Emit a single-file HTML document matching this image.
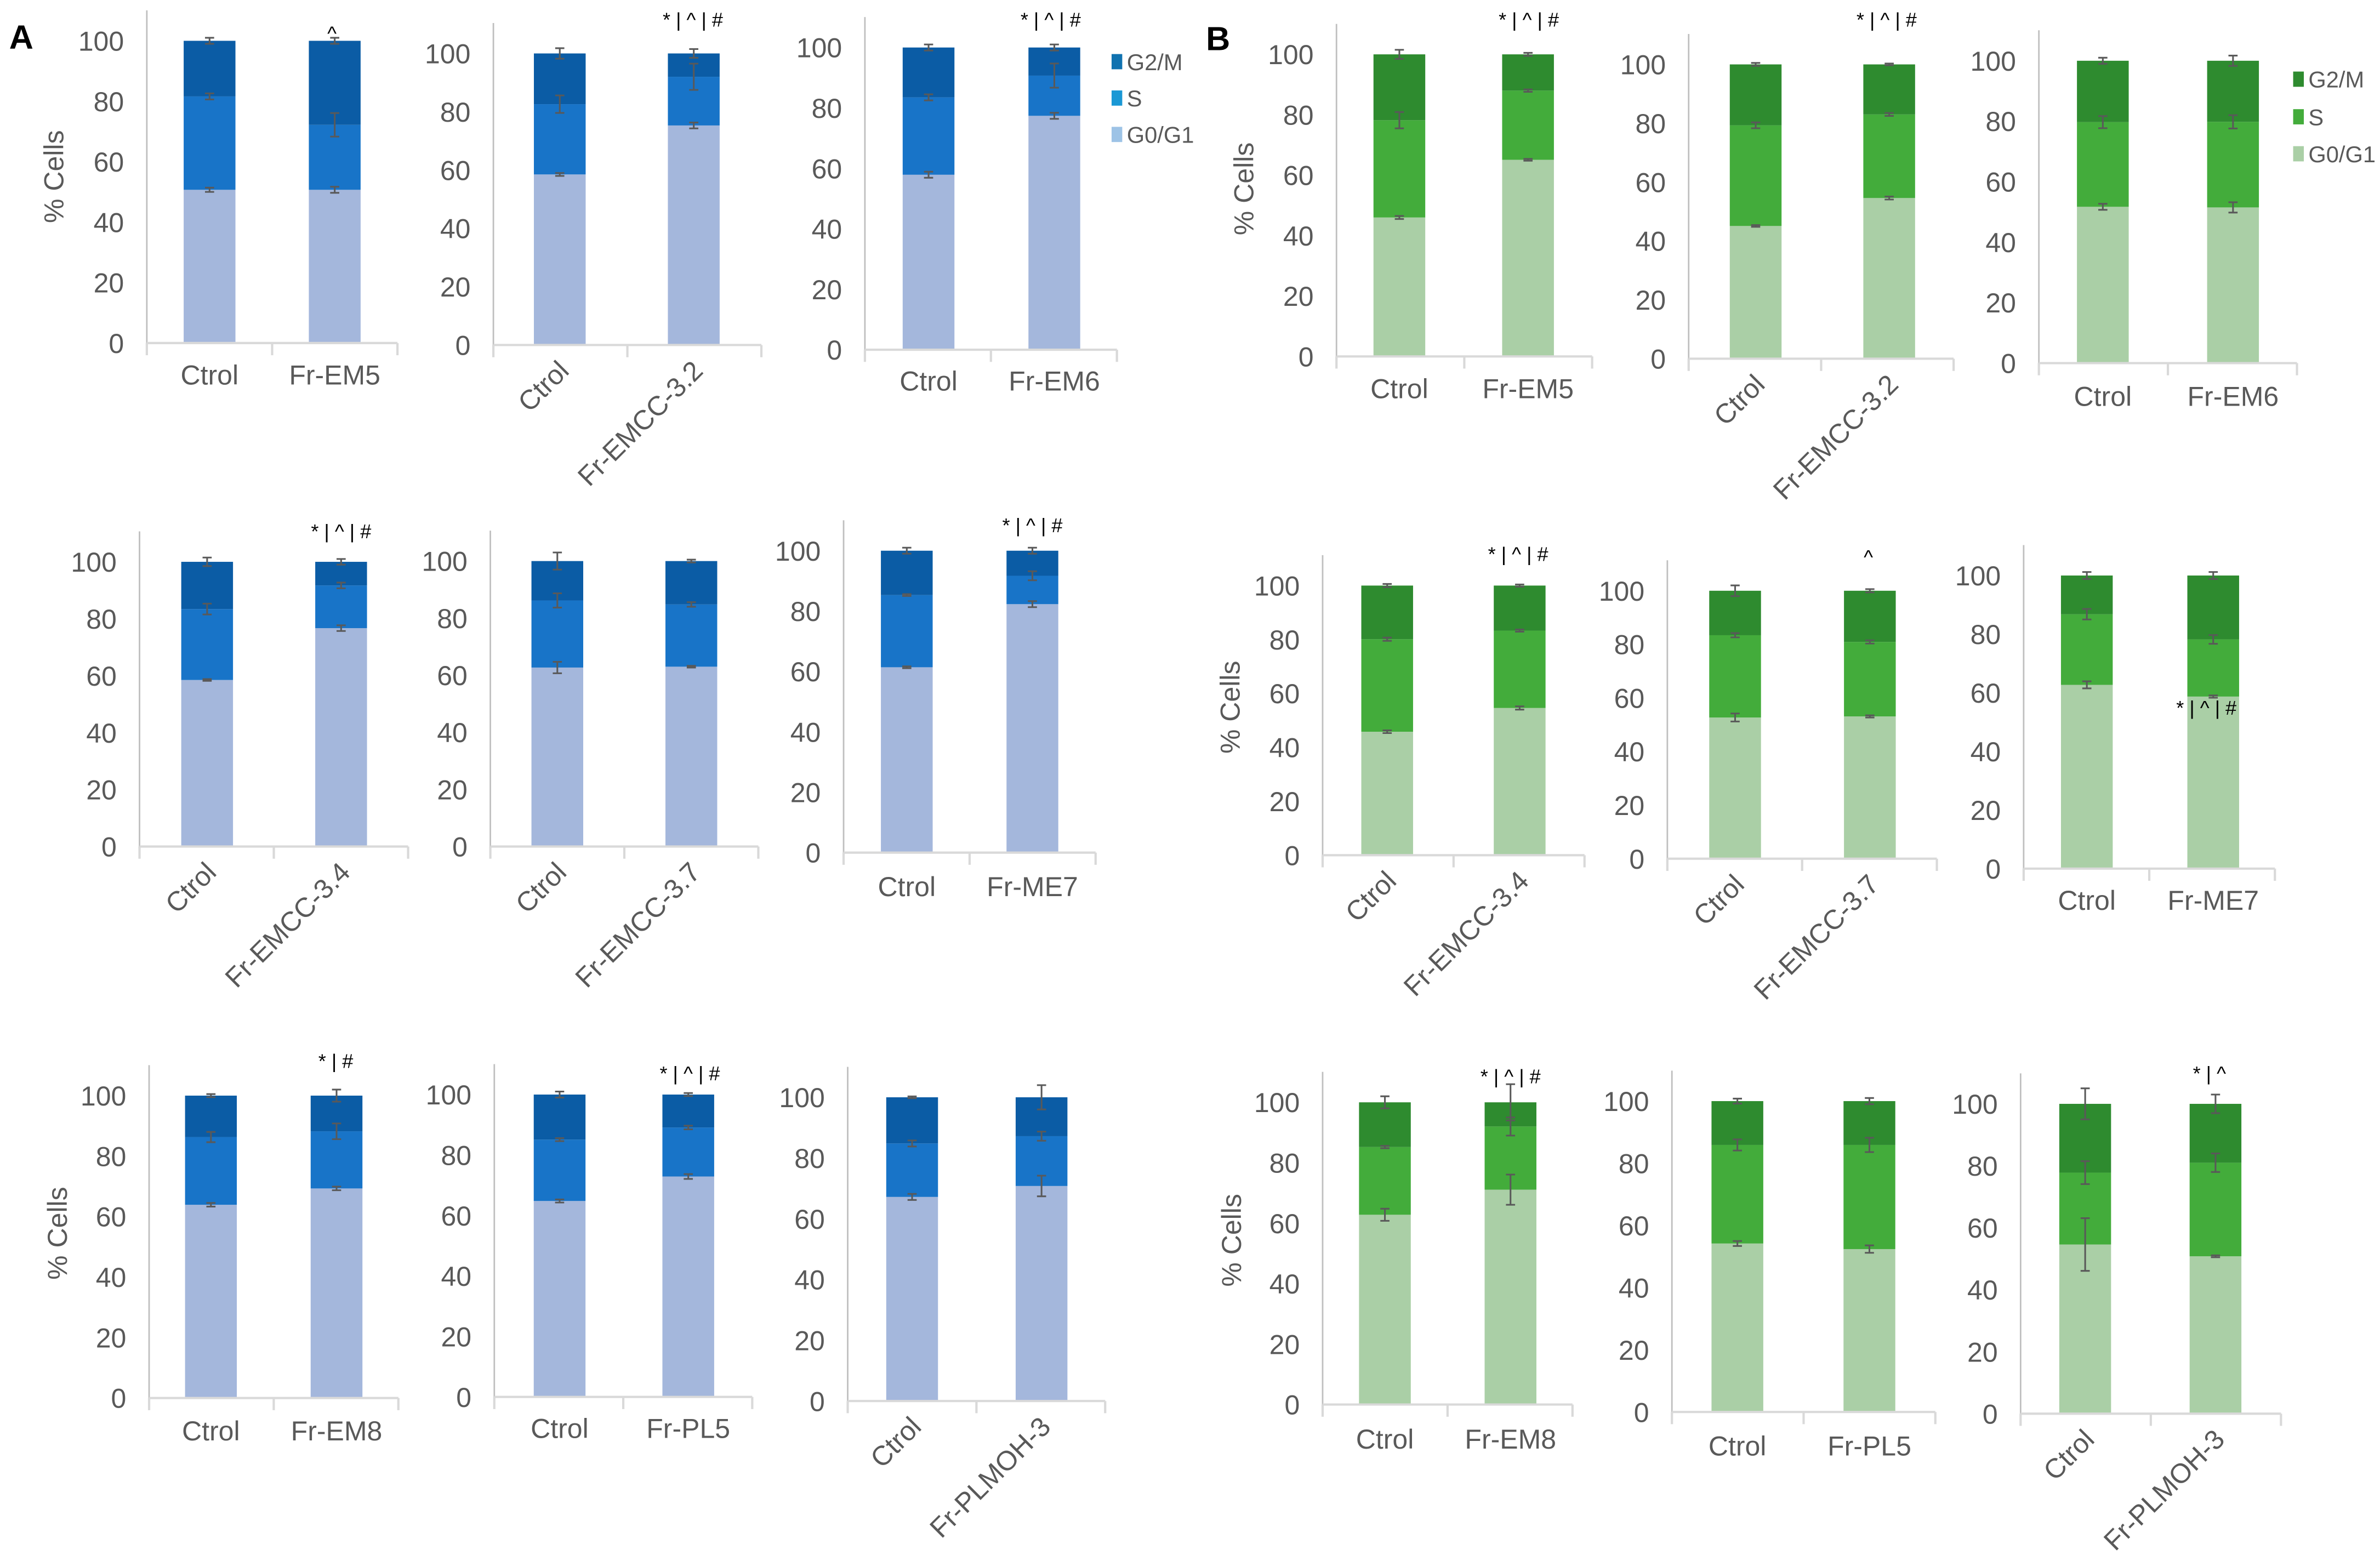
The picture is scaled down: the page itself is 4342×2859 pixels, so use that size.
<!DOCTYPE html>
<html><head><meta charset="utf-8"><title>Cell cycle distribution</title>
<style>
html,body{margin:0;padding:0;background:#fff;}
svg{display:block;}
text{font-family:"Liberation Sans",Arial,sans-serif;}
</style></head>
<body>
<svg id="fig" width="4342" height="2859" viewBox="0 0 1563 1029.2" xmlns="http://www.w3.org/2000/svg">
<text x="6" y="32" font-size="22" font-weight="bold" fill="#000">A</text>
<text x="792" y="33" font-size="22" font-weight="bold" fill="#000">B</text>
</svg>
<script>
// ---- data (percent of cells per phase, per chart; [Ctrol, treatment]) ----
const categories = [
 ["Ctrol","Fr-EM5"],["Ctrol","Fr-EMCC-3.2"],["Ctrol","Fr-EM6"],
 ["Ctrol","Fr-EMCC-3.4"],["Ctrol","Fr-EMCC-3.7"],["Ctrol","Fr-ME7"],
 ["Ctrol","Fr-EM8"],["Ctrol","Fr-PL5"],["Ctrol","Fr-PLMOH-3"],
 ["Ctrol","Fr-EM5"],["Ctrol","Fr-EMCC-3.2"],["Ctrol","Fr-EM6"],
 ["Ctrol","Fr-EMCC-3.4"],["Ctrol","Fr-EMCC-3.7"],["Ctrol","Fr-ME7"],
 ["Ctrol","Fr-EM8"],["Ctrol","Fr-PL5"],["Ctrol","Fr-PLMOH-3"]
];
const g1Values = [[50.7,50.7],[58.5,75.3],[57.9,77.4],[58.5,76.7],[62.7,63],[61.4,82.3],[63.9,69.3],[64.8,72.9],[67.2,70.8],
 [46,65.1],[45.1,54.6],[51.7,51.5],[45.8,54.6],[52.7,53.1],[62.7,58.7],[62.8,71.1],[54.2,52.4],[54.6,50.8]];
const sValues = [[30.9,21.5],[24.1,16.7],[25.6,13.3],[24.9,15],[23.5,21.8],[23.9,9.4],[22.4,18.9],[20.3,16.2],[17.6,16.4],
 [32.2,22.9],[34.2,28.4],[28,28.3],[34.3,28.7],[30.7,27.8],[24.1,19.5],[22.4,20.9],[31.7,33.5],[23.2,30.2]];
const g2mValues = [[18.4,27.8],[17.4,8],[16.5,9.3],[16.6,8.3],[13.8,15.2],[14.7,8.3],[13.7,11.8],[14.9,10.9],[15.2,12.8],
 [21.8,12],[20.7,17],[20.3,20.2],[19.9,16.7],[16.6,19.1],[13.2,21.8],[14.8,8],[14.1,14.1],[22.2,19]];
const g1Err = [[0.7,1],[0.5,1],[1,1],[0.3,1],[2,0.3],[0.3,1],[0.6,0.6],[0.5,0.8],[1,3.4],
 [0.5,0.3],[0.3,0.5],[1,1.7],[0.5,0.6],[1.5,0.4],[1.2,0.4],[2,5],[0.8,1.2],[8.5,0.3]];
const sErr = [[1,3.9],[3,4.5],[1,4],[1.9,1],[2.5,0.8],[0.3,1.5],[1.7,2.6],[0.5,0.6],[1,1.5],
 [2.7,0.4],[1,0.5],[2,2.2],[0.6,0.4],[0.8,0.6],[1.8,1.5],[0.4,3],[1.8,2.3],[3.7,3]];
const g2mErr = [[1,1],[1.8,1.5],[1,1],[1.5,1],[3,0.5],[1,1],[0.5,2],[1,0.5],[0.3,4],
 [1.5,0.5],[0.5,0.3],[1,1.7],[0.6,0.4],[2,0.6],[1.2,1.2],[2,6],[0.8,1],[5,3]];
const annotations = ["^","* | ^ | #","* | ^ | #","* | ^ | #","","* | ^ | #","* | #","* | ^ | #","",
 "* | ^ | #","* | ^ | #","","* | ^ | #","^","* | ^ | #","* | ^ | #","","* | ^"];
const yTicks = [0,20,40,60,80,100];
const seriesNames = ["G2/M","S","G0/G1"];

// ---- layout (pixel geometry, not data) ----
const L = [
 {ax:96.4,r:261,y0:225.3,y100:26.8,c:[137.6,219.8],lab:'h',ly:246,an:[218,22]},
 {ax:324,r:500,y0:226.6,y100:35.1,c:[367.6,455.6],lab:'r',an:[455,13]},
 {ax:568,r:733.5,y0:229.7,y100:31.2,c:[609.8,692.4],lab:'h',ly:250,an:[690,13]},
 {ax:91.6,r:268,y0:556,y100:369,c:[136,224],lab:'r',an:[224,349]},
 {ax:322,r:498,y0:556,y100:368.5,c:[366,454],lab:'r',an:null},
 {ax:554,r:719.5,y0:560,y100:361.7,c:[595.5,678],lab:'h',ly:582,an:[678,345]},
 {ax:97.9,r:261.6,y0:918.2,y100:719.6,c:[138.5,221],lab:'h',ly:939.6,an:[220.5,697]},
 {ax:324.6,r:494,y0:917.5,y100:718.9,c:[367.5,452],lab:'h',ly:938,an:[453,705]},
 {ax:556.7,r:725.8,y0:920.2,y100:720.7,c:[599,684],lab:'r',an:null},
 {ax:877.7,r:1045.6,y0:234.1,y100:35.7,c:[919,1003.5],lab:'h',ly:255,an:[1004,13]},
 {ax:1109,r:1283,y0:235.6,y100:42.3,c:[1153,1240.7],lab:'r',an:[1239,13]},
 {ax:1339,r:1508.5,y0:238.5,y100:39.9,c:[1381,1466.5],lab:'h',ly:260,an:null},
 {ax:868.6,r:1040.6,y0:561.7,y100:384.6,c:[911,998],lab:'r',an:[997,364]},
 {ax:1095,r:1272,y0:564,y100:388,c:[1139.5,1228],lab:'r',an:[1227,366]},
 {ax:1329,r:1494,y0:570.5,y100:378,c:[1370.5,1453.5],lab:'h',ly:591,an:[1449,465]},
 {ax:868.6,r:1032.7,y0:922.5,y100:724,c:[909.5,992],lab:'h',ly:945,an:[992,707]},
 {ax:1098,r:1271,y0:927.4,y100:723.2,c:[1141,1227.7],lab:'h',ly:949.5,an:null},
 {ax:1327,r:1498,y0:928.5,y100:725,c:[1369.4,1455],lab:'r',an:[1451,705]}
];
const yTitles = [[35.5,116],[37.8,810],[817,124],[808,464.5],[809,814.6]];
const blue = ["#a4b7dc","#1874c8","#0b5ca5"], green = ["#aacfa6","#43ac3b","#2e8b2f"];
const legBlue = ["#1072b0","#1a98d5","#9dc3e6"], legGreen = ["#2e8b2f","#43ac3b","#aacfa6"];
const NS = "http://www.w3.org/2000/svg";
const svg = document.getElementById('fig');
function mk(tag, attrs, parent){
  const e = document.createElementNS(NS, tag);
  for (const k in attrs) e.setAttribute(k, attrs[k]);
  (parent||svg).appendChild(e); return e;
}

L.forEach((p, i) => {
  const g = mk('g', {});
  
  
  const cols = i < 9 ? blue : green;
  const yScale = v => p.y0 - (p.y0 - p.y100) * v / 100;
  const yl = mk('line', {x1:p.ax,x2:p.ax,y1:p.y100-20,y2:p.y0,stroke:'#bfbfbf','stroke-width':1}, g);
  
  
  yTicks.forEach(t => {
    const tt = mk('text', {x:p.ax-15,y:yScale(t)+6.5,'font-size':18,fill:'#595959','text-anchor':'end'}, g);
    tt.textContent = t;
    
    
  });
  const bw = 34;
  [0,1].forEach(k => {
    const cx = p.c[k];
    const segs = [g1Values[i][k], sValues[i][k], g2mValues[i][k]];
    const errs = [g1Err[i][k], sErr[i][k], g2mErr[i][k]];
    let base = 0;
    const tops = [];
    segs.forEach((v, s) => {
      const r = mk('rect', {x:cx-bw/2,y:yScale(base+v),width:bw,height:yScale(base)-yScale(base+v),fill:cols[s]}, g);
      
      
      base += v; tops.push(base);
    });
    tops.forEach((t, s) => {
      const e = errs[s];
      const y1 = yScale(t+e), y2 = yScale(t-e);
      const eb = mk('path', {d:`M${cx-3} ${y1}H${cx+3}M${cx} ${y1}V${y2}M${cx-3} ${y2}H${cx+3}`,stroke:'#595959','stroke-width':1.1,fill:'none'}, g);
      
      
    });
    let lt;
    if (p.lab === 'h') {
      lt = mk('text', {x:cx,y:p.ly+6.5,'font-size':18,fill:'#595959','text-anchor':'middle'}, g);
    } else {
      lt = mk('text', {x:0,y:0,'font-size':18,fill:'#595959','text-anchor':'end',transform:`translate(${cx+7},${p.y0+18}) rotate(-45)`}, g);
    }
    lt.textContent = categories[i][k];
    
    
  });
  const mid = (p.ax + p.r)/2;
  const xl = mk('path', {d:`M${p.ax} ${p.y0}H${p.r}M${p.ax} ${p.y0}v8M${mid} ${p.y0}v8M${p.r} ${p.y0}v8`,stroke:'#d9d9d9','stroke-width':1.5,fill:'none'}, g);
  
  
  if (p.an && annotations[i]) {
    const at = mk('text', {x:p.an[0],y:p.an[1]+4.5,'font-size':13,fill:'#000','text-anchor':'middle'}, g);
    at.textContent = annotations[i];
    
    
  }
});

yTitles.forEach(t => {
  const yt = mk('text', {x:0,y:0,'font-size':18,fill:'#595959','text-anchor':'middle',transform:`translate(${t[0]+6},${t[1]}) rotate(-90)`});
  yt.textContent = '% Cells';
  
  
});

[[730,[40.5,64.4,88.3],legBlue],[1506,[52,76.7,101],legGreen]].forEach((lg, j) => {
  const g = mk('g', {});
  
  
  seriesNames.forEach((n, s) => {
    const sq = mk('rect', {x:lg[0],y:lg[1][s]-5,width:7,height:10,fill:lg[2][s]}, g);
    
    
    const tx = mk('text', {x:lg[0]+10,y:lg[1][s]+5.5,'font-size':15,fill:'#595959'}, g);
    tx.textContent = n;
    
    
  });
});
</script>
</body></html>
